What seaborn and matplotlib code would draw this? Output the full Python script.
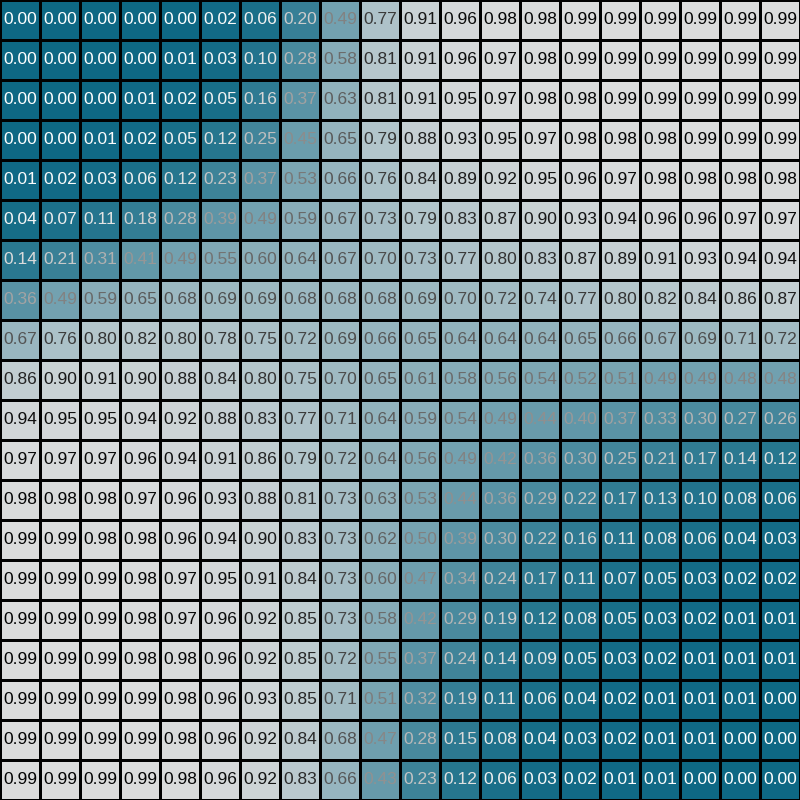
import numpy as np
import pandas as pd
import seaborn as sns
import matplotlib
matplotlib.use("Agg")
import matplotlib.pyplot as plt
from matplotlib.colors import LinearSegmentedColormap

row00 = [0.00, 0.00, 0.00, 0.00, 0.00, 0.02, 0.06, 0.20, 0.49, 0.77, 0.91, 0.96, 0.98, 0.98, 0.99, 0.99, 0.99, 0.99, 0.99, 0.99]
row01 = [0.00, 0.00, 0.00, 0.00, 0.01, 0.03, 0.10, 0.28, 0.58, 0.81, 0.91, 0.96, 0.97, 0.98, 0.99, 0.99, 0.99, 0.99, 0.99, 0.99]
row02 = [0.00, 0.00, 0.00, 0.01, 0.02, 0.05, 0.16, 0.37, 0.63, 0.81, 0.91, 0.95, 0.97, 0.98, 0.98, 0.99, 0.99, 0.99, 0.99, 0.99]
row03 = [0.00, 0.00, 0.01, 0.02, 0.05, 0.12, 0.25, 0.45, 0.65, 0.79, 0.88, 0.93, 0.95, 0.97, 0.98, 0.98, 0.98, 0.99, 0.99, 0.99]
row04 = [0.01, 0.02, 0.03, 0.06, 0.12, 0.23, 0.37, 0.53, 0.66, 0.76, 0.84, 0.89, 0.92, 0.95, 0.96, 0.97, 0.98, 0.98, 0.98, 0.98]
row05 = [0.04, 0.07, 0.11, 0.18, 0.28, 0.39, 0.49, 0.59, 0.67, 0.73, 0.79, 0.83, 0.87, 0.90, 0.93, 0.94, 0.96, 0.96, 0.97, 0.97]
row06 = [0.14, 0.21, 0.31, 0.41, 0.49, 0.55, 0.60, 0.64, 0.67, 0.70, 0.73, 0.77, 0.80, 0.83, 0.87, 0.89, 0.91, 0.93, 0.94, 0.94]
row07 = [0.36, 0.49, 0.59, 0.65, 0.68, 0.69, 0.69, 0.68, 0.68, 0.68, 0.69, 0.70, 0.72, 0.74, 0.77, 0.80, 0.82, 0.84, 0.86, 0.87]
row08 = [0.67, 0.76, 0.80, 0.82, 0.80, 0.78, 0.75, 0.72, 0.69, 0.66, 0.65, 0.64, 0.64, 0.64, 0.65, 0.66, 0.67, 0.69, 0.71, 0.72]
row09 = [0.86, 0.90, 0.91, 0.90, 0.88, 0.84, 0.80, 0.75, 0.70, 0.65, 0.61, 0.58, 0.56, 0.54, 0.52, 0.51, 0.49, 0.49, 0.48, 0.48]
row10 = [0.94, 0.95, 0.95, 0.94, 0.92, 0.88, 0.83, 0.77, 0.71, 0.64, 0.59, 0.54, 0.49, 0.44, 0.40, 0.37, 0.33, 0.30, 0.27, 0.26]
row11 = [0.97, 0.97, 0.97, 0.96, 0.94, 0.91, 0.86, 0.79, 0.72, 0.64, 0.56, 0.49, 0.42, 0.36, 0.30, 0.25, 0.21, 0.17, 0.14, 0.12]
row12 = [0.98, 0.98, 0.98, 0.97, 0.96, 0.93, 0.88, 0.81, 0.73, 0.63, 0.53, 0.44, 0.36, 0.29, 0.22, 0.17, 0.13, 0.10, 0.08, 0.06]
row13 = [0.99, 0.99, 0.98, 0.98, 0.96, 0.94, 0.90, 0.83, 0.73, 0.62, 0.50, 0.39, 0.30, 0.22, 0.16, 0.11, 0.08, 0.06, 0.04, 0.03]
row14 = [0.99, 0.99, 0.99, 0.98, 0.97, 0.95, 0.91, 0.84, 0.73, 0.60, 0.47, 0.34, 0.24, 0.17, 0.11, 0.07, 0.05, 0.03, 0.02, 0.02]
row15 = [0.99, 0.99, 0.99, 0.98, 0.97, 0.96, 0.92, 0.85, 0.73, 0.58, 0.42, 0.29, 0.19, 0.12, 0.08, 0.05, 0.03, 0.02, 0.01, 0.01]
row16 = [0.99, 0.99, 0.99, 0.98, 0.98, 0.96, 0.92, 0.85, 0.72, 0.55, 0.37, 0.24, 0.14, 0.09, 0.05, 0.03, 0.02, 0.01, 0.01, 0.01]
row17 = [0.99, 0.99, 0.99, 0.99, 0.98, 0.96, 0.93, 0.85, 0.71, 0.51, 0.32, 0.19, 0.11, 0.06, 0.04, 0.02, 0.01, 0.01, 0.01, 0.00]
row18 = [0.99, 0.99, 0.99, 0.99, 0.98, 0.96, 0.92, 0.84, 0.68, 0.47, 0.28, 0.15, 0.08, 0.04, 0.03, 0.02, 0.01, 0.01, 0.00, 0.00]
row19 = [0.99, 0.99, 0.99, 0.99, 0.98, 0.96, 0.92, 0.83, 0.66, 0.43, 0.23, 0.12, 0.06, 0.03, 0.02, 0.01, 0.01, 0.00, 0.00, 0.00]

rows = [row00, row01, row02, row03, row04, row05, row06, row07, row08, row09,
        row10, row11, row12, row13, row14, row15, row16, row17, row18, row19]
data = pd.DataFrame(rows)

LOW_COLOR = "#0e6884"
HIGH_COLOR = "#dddddd"
cmap = LinearSegmentedColormap.from_list("tealgray", [LOW_COLOR, HIGH_COLOR])

plt.rcParams['font.family'] = ['Liberation Sans', 'DejaVu Sans']

fig = plt.figure(figsize=(8, 8), dpi=100)
ax = fig.add_axes([0, 0, 1, 1])
sns.heatmap(data, ax=ax, cmap=cmap, vmin=0, vmax=1, cbar=False,
            annot=True, fmt=".2f", annot_kws={"fontsize": 12.5},
            linewidths=2, linecolor="black", square=False)

vals = data.values.flatten()
for txt, v in zip(ax.texts, vals):
    g = 1.0 - float(v)
    g = min(max(g, 0.0), 1.0)
    txt.set_color((g, g, g))

ax.set_xticks([])
ax.set_yticks([])
ax.set_xlabel("")
ax.set_ylabel("")
fig.savefig("out.png", dpi=100)
